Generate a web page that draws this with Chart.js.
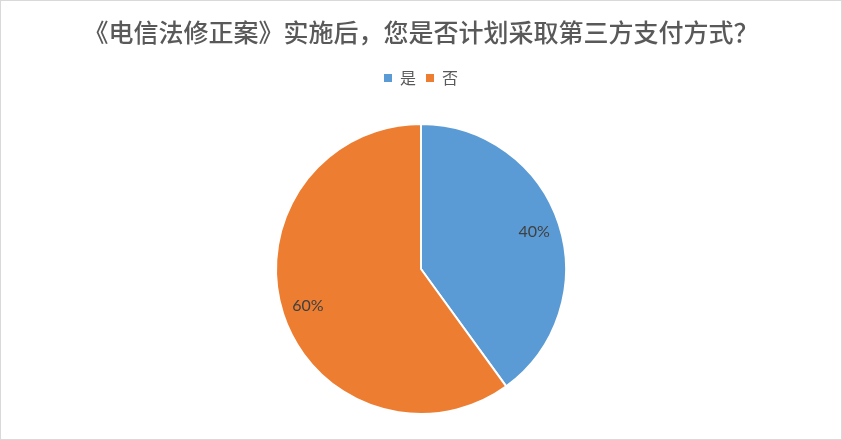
<!DOCTYPE html>
<html>
<head>
<meta charset="utf-8">
<script src="https://cdn.jsdelivr.net/npm/chart.js@4/dist/chart.umd.min.js"></script>
<style>
  html, body { margin: 0; padding: 0; background: #fff; }
  #wrap {
    width: 842px; height: 440px; box-sizing: border-box;
    border: 1px solid #d9d9d9; background: #fff;
  }
</style>
</head>
<body>
<div id="wrap"><canvas id="pie" width="840" height="438"></canvas></div>
<script>
const titleText = "《电信法修正案》实施后，您是否计划采取第三方支付方式？";
const categories = ["是", "否"];
const shares = [40, 60];
const colors = ["#5B9BD5", "#ED7D31"];

const cjk = "'Noto Sans CJK SC', 'Noto Sans', sans-serif";

// percent labels inside the slices
const sliceLabels = {
  id: "sliceLabels",
  afterDatasetsDraw(chart) {
    const ctx = chart.ctx;
    const meta = chart.getDatasetMeta(0);
    const total = shares.reduce((a, b) => a + b, 0);
    ctx.save();
    ctx.font = "16px Lato, 'Open Sans', sans-serif";
    ctx.fillStyle = "#404040";
    ctx.textAlign = "center";
    ctx.textBaseline = "middle";
    meta.data.forEach((arc, i) => {
      const p = arc.getProps(["x", "y", "startAngle", "endAngle", "outerRadius"], true);
      const mid = (p.startAngle + p.endAngle) / 2;
      const r = p.outerRadius * 0.82;
      const pct = Math.round(shares[i] / total * 100) + "%";
      ctx.fillText(pct, p.x + Math.cos(mid) * r, p.y + Math.sin(mid) * r);
    });
    ctx.restore();
  }
};

// extra gap under the legend
const legendGap = {
  id: "legendGap",
  beforeInit(chart) {
    const fit = chart.legend.fit;
    chart.legend.fit = function () {
      fit.bind(chart.legend)();
      this.height += 27;
    };
  }
};

new Chart(document.getElementById("pie"), {
  type: "pie",
  data: {
    labels: categories,
    datasets: [{
      data: shares,
      backgroundColor: colors,
      borderColor: "#ffffff",
      borderWidth: 2
    }]
  },
  options: {
    responsive: false,
    animation: false,
    layout: { padding: { top: 0, bottom: 24, left: 0, right: 0 } },
    plugins: {
      title: {
        display: true,
        text: titleText,
        color: "#595959",
        font: { family: cjk, size: 25, weight: "500", lineHeight: 1.2 },
        padding: { top: 16, bottom: 13 }
      },
      legend: {
        position: "top",
        labels: {
          color: "#595959",
          font: { family: cjk, size: 16 },
          boxWidth: 8,
          boxHeight: 8,
          padding: 10,
          generateLabels(chart) {
            const items = Chart.overrides.pie.plugins.legend.labels.generateLabels(chart);
            items.forEach(it => { it.lineWidth = 0; it.strokeStyle = it.fillStyle; });
            return items;
          }
        }
      },
      tooltip: { enabled: false }
    }
  },
  plugins: [legendGap, sliceLabels]
});
</script>
</body>
</html>
